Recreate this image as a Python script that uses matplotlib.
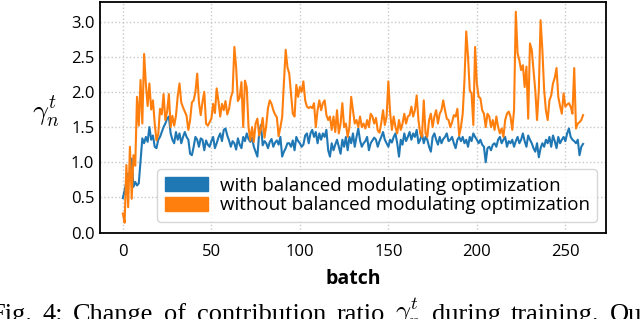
import matplotlib
matplotlib.use("Agg")
import numpy as np
import matplotlib.pyplot as plt
import matplotlib.patches as mpatches

# contribution ratio per batch (batch 0..260)
with_balanced = [
    0.49, 0.60, 0.72, 0.84, 0.74, 1.05, 0.65, 0.72, 0.67, 0.70,
    1.03, 1.34, 1.27, 1.36, 1.29, 1.50, 1.32, 1.38, 1.22, 1.20,
    1.32, 1.36, 1.43, 1.50, 1.55, 1.62, 1.65, 1.41, 1.32, 1.27,
    1.43, 1.32, 1.41, 1.27, 1.36, 1.43, 1.36, 1.32, 1.12, 1.10,
    1.22, 1.36, 1.32, 1.22, 1.34, 1.32, 1.17, 1.31, 1.25, 1.22,
    1.30, 1.36, 1.20, 1.27, 1.35, 1.41, 1.30, 1.46, 1.48, 1.38,
    1.31, 1.22, 1.30, 1.27, 1.18, 1.34, 1.25, 1.20, 1.36, 1.30,
    1.41, 1.33, 1.29, 1.35, 1.22, 1.15, 1.08, 1.41, 1.53, 1.24,
    1.30, 1.27, 1.20, 1.29, 1.33, 1.22, 1.28, 1.31, 1.25, 1.36,
    1.08, 1.15, 1.20, 1.27, 1.27, 1.22, 1.31, 1.17, 1.36, 1.30,
    1.27, 1.22, 1.25, 1.38, 1.41, 1.27, 1.41, 1.46, 1.36, 1.43,
    1.27, 1.41, 1.32, 1.41, 1.36, 1.46, 1.17, 1.08, 1.27, 1.17,
    1.25, 1.32, 1.22, 1.12, 1.32, 1.22, 1.36, 1.17, 1.36, 1.27,
    1.41, 1.22, 1.36, 1.48, 1.31, 1.22, 1.27, 1.30, 1.36, 1.17,
    1.27, 1.31, 1.35, 1.32, 1.22, 1.30, 1.36, 1.43, 1.32, 1.27,
    1.22, 1.32, 1.28, 1.36, 1.41, 1.27, 1.08, 1.32, 1.25, 1.41,
    1.30, 1.36, 1.43, 1.32, 1.41, 1.36, 1.46, 1.27, 1.32, 1.41,
    1.27, 1.36, 1.32, 1.22, 1.15, 1.36, 1.41, 1.32, 1.25, 1.36,
    1.27, 1.33, 1.36, 1.41, 1.30, 1.32, 1.36, 1.27, 1.20, 1.32,
    1.36, 1.30, 1.36, 1.27, 1.32, 1.22, 1.36, 1.30, 1.41, 1.36,
    1.32, 1.27, 1.32, 1.25, 1.22, 1.00, 1.20, 1.22, 1.17, 1.25,
    1.27, 1.22, 1.32, 1.36, 1.27, 1.32, 1.36, 1.22, 1.30, 1.27,
    1.32, 1.22, 1.30, 1.36, 1.27, 1.32, 1.41, 1.30, 1.22, 1.38,
    1.32, 1.27, 1.20, 1.15, 1.27, 1.07, 1.20, 1.27, 1.22, 1.32,
    1.27, 1.36, 1.22, 1.38, 1.30, 1.20, 1.36, 1.27, 1.32, 1.36,
    1.30, 1.41, 1.48, 1.36, 1.32, 1.30, 1.27, 1.32, 1.10, 1.22,
    1.26,
]

without_balanced = [
    0.27, 0.14, 0.96, 0.36, 1.22, 0.48, 1.10, 0.95, 1.93, 1.52,
    2.17, 1.55, 2.54, 2.11, 1.80, 2.12, 1.75, 1.88, 1.55, 1.31,
    1.40, 1.76, 1.68, 1.97, 1.60, 1.72, 1.97, 1.50, 1.66, 1.52,
    1.66, 1.94, 2.12, 1.85, 1.78, 1.72, 1.66, 1.46, 1.60, 1.85,
    1.88, 2.00, 2.26, 1.85, 1.67, 1.86, 2.00, 1.55, 1.52, 1.57,
    1.62, 1.83, 1.70, 2.05, 1.87, 1.65, 1.83, 1.74, 1.87, 1.68,
    1.76, 1.92, 2.00, 2.64, 2.35, 1.87, 1.92, 2.14, 1.50, 2.16,
    2.06, 1.50, 1.31, 1.50, 1.29, 1.55, 1.62, 1.38, 1.47, 1.63,
    1.35, 1.52, 1.77, 1.88, 1.83, 1.74, 1.68, 1.64, 1.37, 1.50,
    1.64, 2.14, 2.60, 2.35, 2.26, 1.98, 1.69, 1.65, 2.10, 1.93,
    2.07, 2.00, 2.15, 1.88, 1.79, 1.77, 1.79, 1.77, 1.84, 1.50,
    1.74, 1.88, 1.74, 1.84, 1.88, 1.67, 1.60, 1.65, 1.46, 1.65,
    1.43, 1.74, 1.41, 1.55, 1.84, 1.50, 1.55, 1.36, 1.50, 1.93,
    1.74, 1.55, 1.60, 1.50, 1.65, 1.50, 1.55, 1.48, 1.60, 1.50,
    1.69, 1.65, 1.55, 1.63, 1.45, 1.42, 1.56, 1.74, 1.53, 1.65,
    2.15, 1.70, 1.46, 1.65, 1.50, 1.41, 1.60, 1.46, 1.55, 1.69,
    1.55, 1.65, 1.67, 1.79, 1.65, 1.74, 1.95, 1.60, 1.41, 1.36,
    1.88, 1.41, 1.36, 1.60, 1.69, 1.50, 1.65, 1.74, 1.55, 1.69,
    1.74, 1.88, 1.74, 1.62, 1.60, 1.50, 1.57, 1.67, 1.65, 1.76,
    1.38, 1.50, 1.69, 2.17, 2.86, 2.50, 2.02, 1.98, 1.53, 2.64,
    2.12, 1.93, 1.91, 1.74, 1.69, 1.50, 1.69, 1.65, 1.50, 1.60,
    1.46, 1.65, 1.50, 1.41, 1.48, 1.36, 1.60, 1.69, 1.72, 1.65,
    1.46, 1.74, 3.14, 2.55, 2.45, 2.31, 2.38, 2.07, 2.36, 1.62,
    2.69, 2.60, 2.31, 2.02, 1.60, 2.03, 3.02, 2.60, 2.03, 1.74,
    1.60, 1.88, 1.95, 2.12, 2.20, 2.34, 1.93, 1.80, 1.69, 1.98,
    1.79, 1.82, 1.84, 1.79, 1.69, 2.34, 1.48, 1.55, 1.57, 1.60,
    1.67,
]

labels = ["with balanced modulating optimization",
          "without balanced modulating optimization"]
colors = ["#1f77b4", "#ff7f0e"]

caption_words = ["Fig.", "4:", "Change", "of", "contribution", "ratio",
                 r"$\gamma_n^t$", "during", "training.", "Our"]

plt.rcParams["font.family"] = ["Open Sans", "DejaVu Sans"]
plt.rcParams["mathtext.fontset"] = "cm"

fig = plt.figure(figsize=(6.4, 3.19), dpi=100)
ax = fig.add_axes([0.156, 0.271, 0.791, 0.723])

batch = np.arange(len(with_balanced))
ax.plot(batch, with_balanced, color=colors[0], lw=1.5)
ax.plot(batch, without_balanced, color=colors[1], lw=1.5)

ax.set_ylim(0, 3.28)
ax.set_xticks([0, 50, 100, 150, 200, 250])
ax.set_yticks([0.0, 0.5, 1.0, 1.5, 2.0, 2.5, 3.0])
ax.grid(True, linestyle=":", color="#c8c8c8", linewidth=1.0)
ax.set_axisbelow(True)
ax.tick_params(length=0, labelsize=12)
ax.tick_params(axis="x", pad=8)
ax.tick_params(axis="y", pad=4)
for s in ax.spines.values():
    s.set_linewidth(1.3)

ax.set_xlabel("batch", fontsize=14, fontweight="bold", labelpad=7)
ax.set_ylabel(r"$\gamma_n^t$", fontsize=20, rotation=0, ha="center", va="center")
ax.yaxis.set_label_coords(-0.107, 0.52)

handles = [mpatches.Patch(color=c) for c in colors]
ax.legend(handles, labels, loc="lower left", bbox_to_anchor=(0.113, 0.046),
          borderaxespad=0, fontsize=13.5, handlelength=2.3, handleheight=0.75,
          handletextpad=0.64, labelspacing=0.1, borderpad=0.4)

# paper caption, justified and cut off at the bottom edge
renderer = fig.canvas.get_renderer()
W = fig.get_figwidth() * fig.dpi
x0, x_last = -10.0, 610.0
texts = []
widths = []
for w in caption_words:
    t = fig.text(0, -0.005, w, fontsize=19, family="Liberation Serif",
                 va="baseline", ha="left")
    texts.append(t)
    widths.append(t.get_window_extent(renderer).width)
gap = (x_last - x0 - sum(widths[:-1])) / (len(caption_words) - 1)
x = x0
for t, wd in zip(texts, widths):
    t.set_x(x / W)
    x += wd + gap

fig.savefig("out.png", dpi=100)
